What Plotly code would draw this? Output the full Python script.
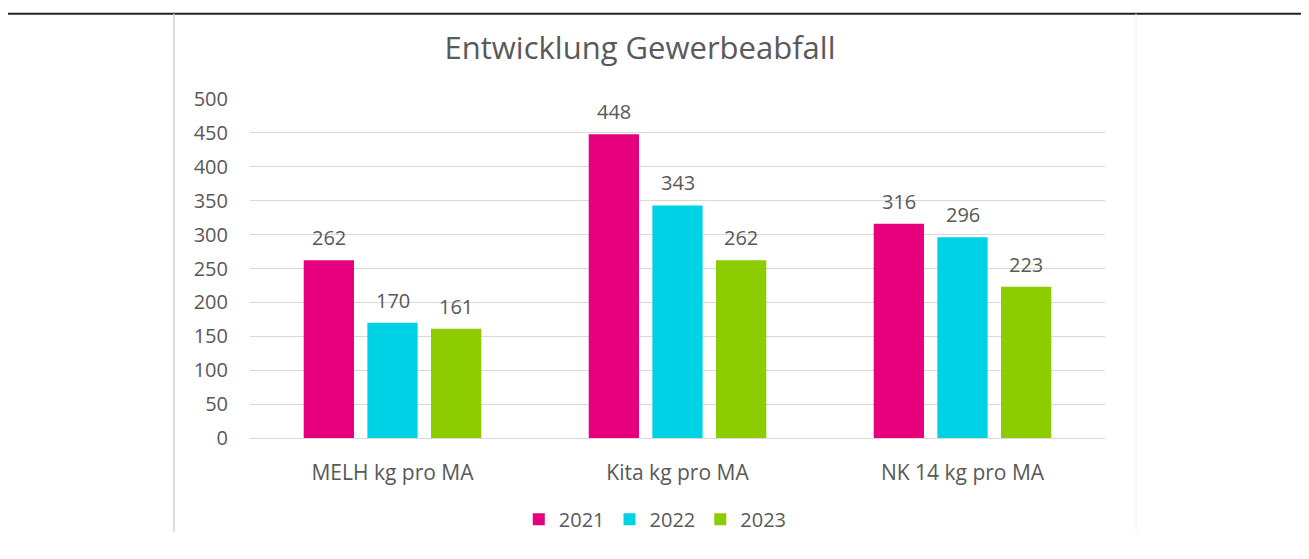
import plotly.graph_objects as go

categories = ["MELH kg pro MA", "Kita kg pro MA", "NK 14 kg pro MA"]
years = ["2021", "2022", "2023"]
values_2021 = [262, 448, 316]
values_2022 = [170, 343, 296]
values_2023 = [161, 262, 223]
y_ticks = [0, 50, 100, 150, 200, 250, 300, 350, 400, 450, 500]

colors = ["#E6007E", "#00D2E6", "#8CCC00"]
FONT = "Open Sans"
GREY = "#595959"

# page body has an 8px margin, so the figure is sized to fit inside the window
W, H = 1293, 543
L, R, T, B = 242, 196, 91, 98
PW, PH = W - L - R, H - T - B

BARGAP = 0.33
GROUPGAP = 0.21

fig = go.Figure()
all_values = [values_2021, values_2022, values_2023]
for year, vals, col in zip(years, all_values, colors):
    fig.add_trace(go.Bar(
        x=categories, y=vals, name=year,
        marker=dict(color=col, line=dict(width=0)),
    ))

# value labels above the bars (Excel style gap)
slot = (1 - BARGAP) / len(years)
for i, vals in enumerate(all_values):
    off = (i - (len(years) - 1) / 2) * slot
    for j, v in enumerate(vals):
        fig.add_annotation(x=j + off, y=v, text=str(v), showarrow=False,
                           yanchor="bottom", yshift=7,
                           font=dict(size=20, color=GREY, family=FONT))

fig.update_layout(
    width=W, height=H,
    paper_bgcolor="white", plot_bgcolor="white",
    margin=dict(l=L, r=R, t=T, b=B),
    barmode="group", bargap=BARGAP, bargroupgap=GROUPGAP,
    font=dict(family=FONT, color=GREY, size=20),
    title=dict(text="Entwicklung Gewerbeabfall", x=632 / W, xanchor="center",
               y=1 - 40 / H, yanchor="middle",
               font=dict(size=31, color=GREY, family=FONT)),
    legend=dict(orientation="h", x=0.474, xanchor="center", y=-0.24,
                yanchor="middle", font=dict(size=20, color=GREY),
                itemwidth=30, traceorder="normal"),
    showlegend=True,
)
fig.update_yaxes(range=[0, 500], tickvals=y_ticks, showgrid=True,
                 gridcolor="#D9D9D9", gridwidth=1, zeroline=False,
                 showline=False, ticks="", ticklabelstandoff=21,
                 tickfont=dict(size=20, color=GREY))
fig.update_xaxes(showline=True, linecolor="#D9D9D9", linewidth=1,
                 ticks="", ticklabelstandoff=16,
                 tickfont=dict(size=21, color=GREY))

# frame lines of the embedded chart
top = (H - B - 2) / PH
bottom = -B / PH
fig.add_shape(type="line", xref="paper", yref="paper", x0=-L / PW, x1=(W - L) / PW,
              y0=top, y1=top, line=dict(color="#222222", width=2))
fig.add_shape(type="line", xref="paper", yref="paper", x0=(166 - L) / PW, x1=(166 - L) / PW,
              y0=top, y1=bottom, line=dict(color="#D0D0D0", width=1.5))
fig.add_shape(type="line", xref="paper", yref="paper", x0=(1128 - L) / PW, x1=(1128 - L) / PW,
              y0=top, y1=bottom, line=dict(color="#F2F2F2", width=1))

fig.write_html("out.html")
